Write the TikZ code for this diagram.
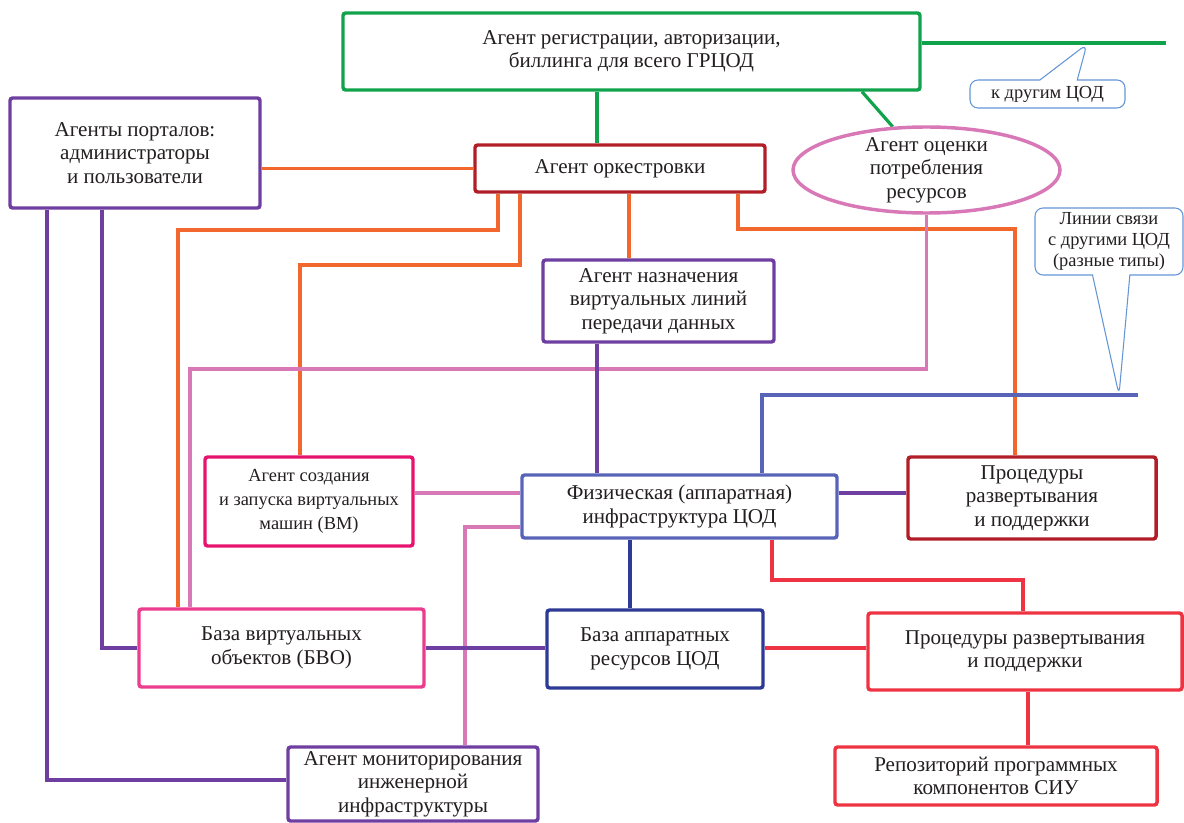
\documentclass[tikz,border=0pt]{standalone}
\usepackage{fontspec}
\setmainfont{Liberation Serif}
\newfontfamily\figfont{Liberation Serif}
\usetikzlibrary{shapes.geometric,shapes.callouts,backgrounds}
\definecolor{txt}{RGB}{35,31,32}
\definecolor{regg}{RGB}{16,163,75}
\definecolor{orng}{RGB}{242,103,45}
\definecolor{dred}{RGB}{178,30,40}
\definecolor{purp}{RGB}{110,62,160}
\definecolor{orch}{RGB}{216,120,182}
\definecolor{mag}{RGB}{230,20,110}
\definecolor{bvop}{RGB}{236,60,142}
\definecolor{physb}{RGB}{88,100,184}
\definecolor{hwb}{RGB}{45,58,150}
\definecolor{rred}{RGB}{238,52,66}
\definecolor{callb}{RGB}{100,150,215}
\newcommand{\mainfs}{\figfont\fontsize{15.8}{17.6}\selectfont}
\newcommand{\smallfs}{\figfont\fontsize{13.8}{18}\selectfont}
\newcommand{\notefs}{\figfont\fontsize{13.8}{16}\selectfont}

\begin{document}
\begin{tikzpicture}[x=0.75pt,y=-0.75pt,
  box/.style={draw,line width=2.6pt,rounded corners=2pt,fill=white,inner sep=0pt,
              align=center,font=\mainfs,text=txt},
  note/.style={rectangle callout,draw=callb,line width=0.8pt,rounded corners=6pt,
               fill=white,inner sep=0pt,align=center,font=\notefs,text=txt},
  wire/.style={line width=2.4pt}]
  \useasboundingbox (0,0) rectangle (1184,823);
  \node[box,draw=regg,minimum width=432.75pt,minimum height=57.75pt] (reg) at (631.5,51.5)
    {Агент регистрации, авторизации,\\биллинга для всего ГРЦОД};
  \node[box,draw=purp,minimum width=187.5pt,minimum height=82.5pt] (portal) at (135,153)
    {Агенты порталов:\\администраторы\\и пользователи};
  \node[box,draw=dred,minimum width=217.5pt,minimum height=35.25pt] (orch) at (620,168.5)
    {Агент оркестровки};
  \node[box,ellipse,draw=orch,inner ysep=-4pt,minimum width=200.25pt,minimum height=64.5pt]
    (eval) at (926.5,170) {Агент оценки\\потребления\\ресурсов};
  \node[box,draw=purp,minimum width=173.25pt,minimum height=61.5pt] (vl) at (658.5,301)
    {Агент назначения\\виртуальных линий\\передачи данных};
  \node[box,draw=mag,font=\smallfs,minimum width=156pt,minimum height=66.75pt] (vm) at (309,501.5)
    {Агент создания\\и запуска виртуальных\\машин (ВМ)};
  \node[box,draw=physb,minimum width=236.25pt,minimum height=47.25pt] (phys) at (679.5,506.5)
    {Физическая (аппаратная)\\инфраструктура ЦОД};
  \node[box,draw=dred,minimum width=186pt,minimum height=61.5pt] (pr1) at (1032,498)
    {Процедуры\\развертывания\\и поддержки};
  \node[box,draw=bvop,minimum width=213.75pt,minimum height=58.5pt] (bvo) at (281.5,648)
    {База виртуальных\\объектов (БВО)};
  \node[box,draw=hwb,minimum width=162pt,minimum height=58.5pt] (hw) at (655,649)
    {База аппаратных\\ресурсов ЦОД};
  \node[box,draw=rred,minimum width=235.5pt,minimum height=57.75pt] (pr2) at (1025,651.5)
    {Процедуры развертывания\\и поддержки};
  \node[box,draw=rred,minimum width=241.5pt,minimum height=43.5pt] (repo) at (996,776)
    {Репозиторий программных\\компонентов СИУ};
  \node[box,draw=purp,minimum width=187.5pt,minimum height=55.5pt] (mon) at (413,784)
    {Агент мониторирования\\инженерной\\инфраструктуры};
  \node[note,minimum width=116.25pt,minimum height=21pt,
        callout absolute pointer={(1087,44)},callout pointer width=28pt] (c1) at (1047.5,94)
    {к другим ЦОД};
  \node[note,minimum width=111pt,minimum height=50.25pt,
        callout absolute pointer={(1119,395)},callout pointer width=28pt] (c2) at (1109,241.5)
    {Линии связи\\с другими ЦОД\\(разные типы)};
  \coordinate (gend) at (1166,43);
  \coordinate (lnk) at (1138,395);
  \begin{scope}[on background layer]
    \draw[wire,draw=regg] (597,0 |- reg.south) -- (597,0 |- orch.north);
    \draw[wire,draw=regg] (reg.east |- gend) -- (gend);
    \draw[wire,draw=regg] (862,0 |- reg.south) -- (eval.128);
    \draw[wire,draw=orng] (orch.west) -- (portal.east |- orch.west);
    \draw[wire,draw=orng] (498,0 |- orch.south) |- (178,230) -- (178,0 |- bvo.north);
    \draw[wire,draw=orng] (520,0 |- orch.south) |- (300,265) -- (300,0 |- vm.north);
    \draw[wire,draw=orng] (629,0 |- orch.south) -- (629,0 |- vl.north);
    \draw[wire,draw=orng] (738,0 |- orch.south) |- (1015,229) -- (1015,0 |- pr1.north);
    \draw[wire,draw=orch] (eval.south) |- (190,369) -- (190,0 |- bvo.north);
    \draw[wire,draw=orch] (vm.east |- 0,493) -- (phys.west |- 0,493);
    \draw[wire,draw=orch] (phys.west |- 0,527) -| (465,0 |- mon.north);
    \draw[wire,draw=purp] (597,0 |- vl.south) -- (597,0 |- phys.north);
    \draw[wire,draw=purp] (phys.east |- 0,493) -- (pr1.west |- 0,493);
    \draw[wire,draw=purp] (102,0 |- portal.south) |- (bvo.west);
    \draw[wire,draw=purp] (47,0 |- portal.south) |- (mon.west |- 0,780);
    \draw[wire,draw=purp] (bvo.east) -- (hw.west |- bvo.east);
    \draw[wire,draw=physb] (762,0 |- phys.north) |- (lnk);
    \draw[wire,draw=hwb] (630,0 |- phys.south) -- (630,0 |- hw.north);
    \draw[wire,draw=rred] (772,0 |- phys.south) |- (1023,580) -- (1023,0 |- pr2.north);
    \draw[wire,draw=rred] (hw.east |- 0,648) -- (pr2.west |- 0,648);
    \draw[wire,draw=rred] (1028,0 |- pr2.south) -- (1028,0 |- repo.north);
  \end{scope}
\end{tikzpicture}
\end{document}
